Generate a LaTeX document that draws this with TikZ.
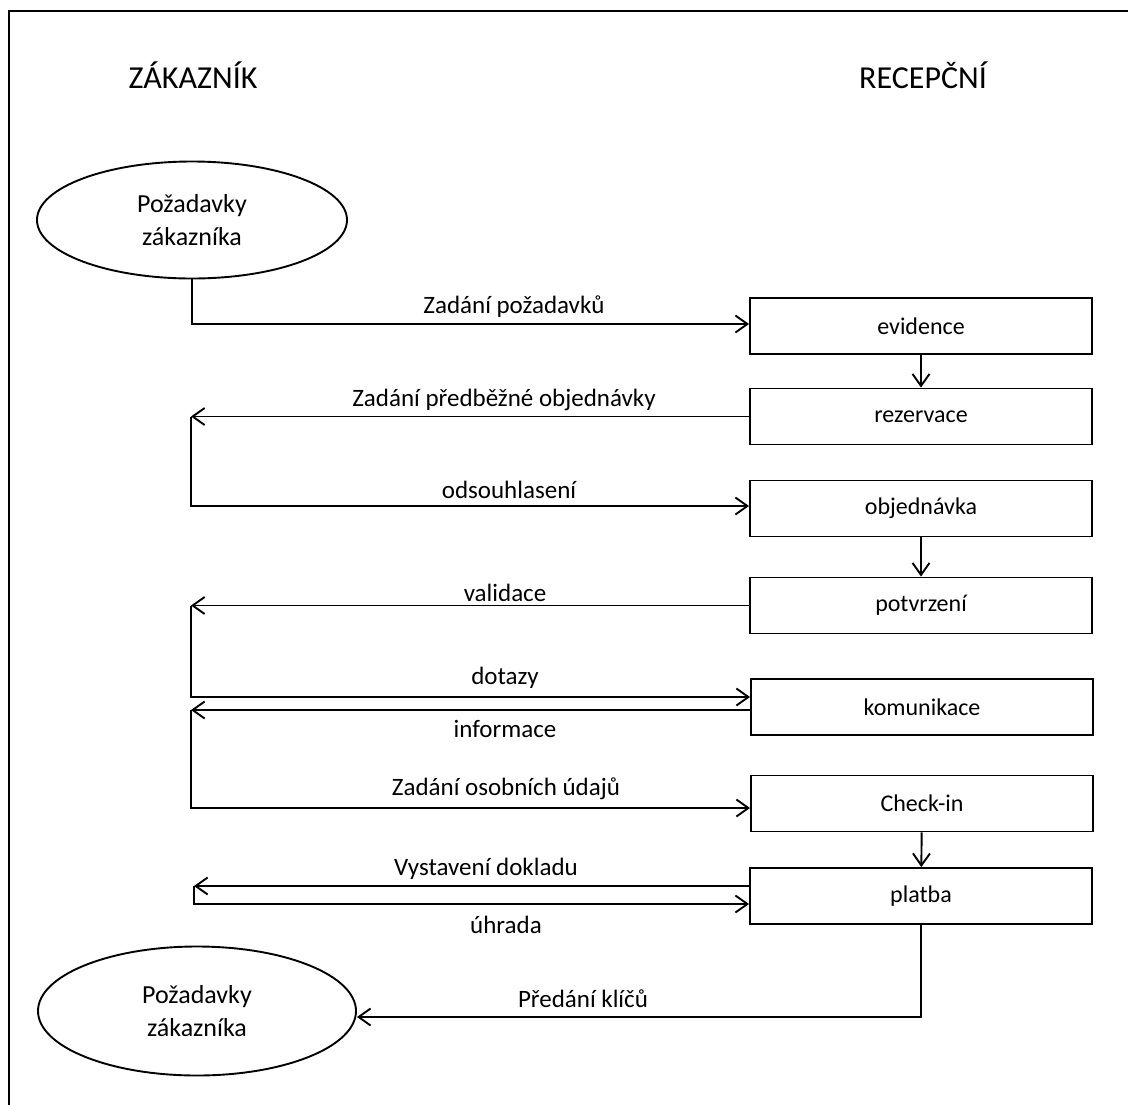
\documentclass[tikz,border=0pt]{standalone}
\usepackage{fontspec}
\setmainfont{Carlito}
\usetikzlibrary{shapes.geometric,arrows.meta}
\begin{document}
\begin{tikzpicture}[x=1pt,y=-1pt,
  line width=1.9pt,
  boxtext/.style={font=\fontsize{24}{33}\selectfont},
  body/.style={font=\fontsize{25}{33}\selectfont},
  ovaltext/.style={font=\fontsize{26}{33}\selectfont},
  title/.style={font=\fontsize{32}{36}\selectfont},
  procbox/.style={draw,rectangle,minimum width=342pt,minimum height=56pt,inner sep=0pt,boxtext},
  oval/.style={draw,ellipse,inner sep=0pt,align=center,ovaltext},
  lbl/.style={body,inner sep=0pt},
  arr/.style={-{Straight Barb[length=12pt,width=17pt,line width=1.9pt]}}]
\useasboundingbox (0,0) rectangle (1128,1104);
\draw (9,1110) -- (9,11) -- (1135,11);

\node[title] (tz) at (193,75) {ZÁKAZNÍK};
\node[title] (tr) at (923,75) {RECEPČNÍ};

\node[oval,minimum width=310pt,minimum height=117pt] (e1) at (192,220) {Požadavky\\zákazníka};
\node[oval,minimum width=318pt,minimum height=129pt] (e2) at (197,1011) {Požadavky\\zákazníka};

\node[procbox] (ev) at (921,326) {evidence};
\node[procbox] (rez) at (921,416.5) {rezervace};
\node[procbox] (obj) at (921,508.5) {objednávka};
\node[procbox] (pot) at (921,605.5) {potvrzení};
\node[procbox] (kom) at (922,707) {komunikace};
\node[procbox] (chk) at (922,803.5) {Check-in};
\node[procbox] (pla) at (921,896) {platba};

\coordinate (L) at (191,0);
\coordinate (LV) at (194,0);

% vertical flow
\draw[arr] (ev) -- (rez);
\draw[arr] (obj) -- (pot);
\draw[arr] (chk) -- (pla);

% horizontal flows
\draw[arr] (e1.south) |- ([yshift=2pt]ev.west);
\draw[arr] (rez.west) -- (rez.west -| L);
\draw[arr] (rez.west -| L) |- ([yshift=2.5pt]obj.west);
\draw[arr] (pot.west) -- (pot.west -| L);
\draw[arr] (pot.west -| L) |- ([yshift=10pt]kom.west);
\draw[arr] ([yshift=-3pt]kom.west) -- ([yshift=-3pt]kom.west -| L);
\draw[arr] ([yshift=-3pt]kom.west -| L) |- ([yshift=-4.5pt]chk.west);
\draw[arr] ([yshift=10pt]pla.west) -- ([yshift=10pt]pla.west -| LV);
\draw[arr] ([yshift=10pt]pla.west -| LV) |- ([yshift=-8pt]pla.west);
\draw[arr] (pla.south) |- ([yshift=-6pt]e2.east);

% labels
\node[lbl] (l1) at (514,307) {Zadání požadavků};
\node[lbl] (l2) at (504,400) {Zadání předběžné objednávky};
\node[lbl] (l3) at (509,490) {odsouhlasení};
\node[lbl] (l4) at (505,593) {validace};
\node[lbl] (l5) at (505,678) {dotazy};
\node[lbl] (l6) at (505,729) {informace};
\node[lbl] (l7) at (506,789) {Zadání osobních údajů};
\node[lbl] (l8) at (486,869) {Vystavení dokladu};
\node[lbl] (l9) at (506,925) {úhrada};
\node[lbl] (l10) at (583,999) {Předání klíčů};
\end{tikzpicture}
\end{document}
